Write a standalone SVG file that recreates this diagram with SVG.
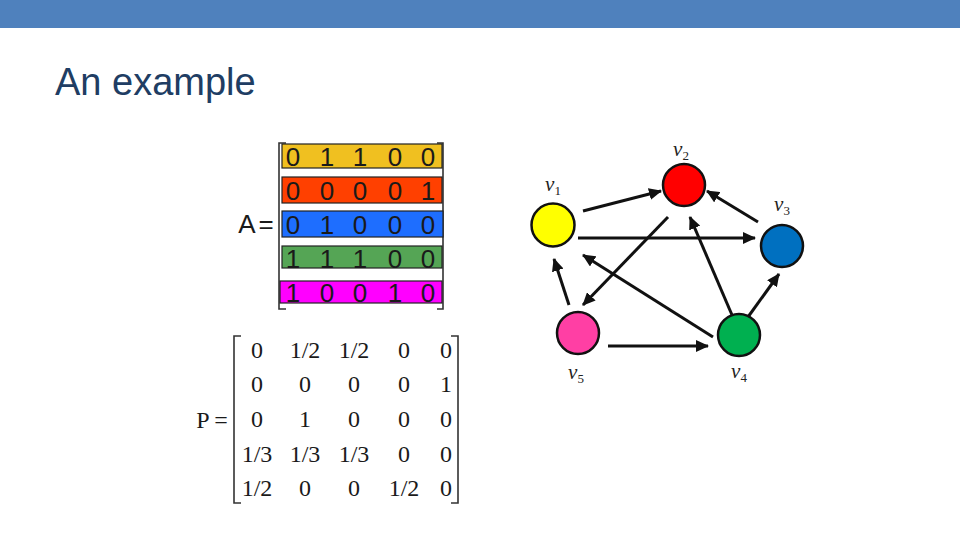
<svg xmlns="http://www.w3.org/2000/svg" width="960" height="540" viewBox="0 0 960 540">
<defs>
<style>
.title{font-family:"Liberation Sans",Arial,sans-serif;font-size:38px;fill:#203D63}
.ma{font-family:"Liberation Sans",Arial,sans-serif;font-size:26px;fill:#1a1a1a;text-anchor:middle}
.mp{font-family:"Liberation Serif","Times New Roman",serif;font-size:24px;fill:#1a1a1a;text-anchor:middle}
.row{stroke:#222;stroke-width:1.2}
.br{fill:none;stroke:#333;stroke-width:1.6}
.node{stroke:#111;stroke-width:2.5}
.lbl{font-family:"Liberation Serif","Times New Roman",serif;font-style:italic;font-size:21px;fill:#222;text-anchor:middle}
.sub{font-size:13px;font-style:normal}
.edge{stroke:#111;stroke-width:3;fill:none;marker-end:url(#ah)}
</style>
<marker id="ah" markerUnits="userSpaceOnUse" markerWidth="14" markerHeight="12" refX="12" refY="6" orient="auto">
<path d="M0,0 L13,6 L0,12 Z" fill="#111"/>
</marker>
</defs>
<rect x="0" y="0" width="960" height="28" fill="#4F81BD"/>
<text class="title" x="55" y="95">An example</text>

<g id="matrixA">
<text class="ma" x="247" y="233">A</text>
<text class="ma" x="266" y="233">=</text>
<path class="br" d="M286,143 H279 V309 H286"/>
<path class="br" d="M437,143 H443 V309 H437" stroke="#888"/>
<rect class="row" x="282" y="144" width="160" height="24" fill="#F0C020"/>
<rect class="row" x="282" y="177" width="160" height="26" fill="#FF4000"/>
<rect class="row" x="282" y="211" width="161" height="26" fill="#1E6EFF"/>
<rect class="row" x="282" y="246" width="160" height="22" fill="#55A555"/>
<rect class="row" x="280" y="281" width="162" height="22" fill="#FF00FF"/>
<g class="ma">
<text x="293" y="166">0</text><text x="327" y="166">1</text><text x="360" y="166">1</text><text x="395" y="166">0</text><text x="428" y="166">0</text>
<text x="293" y="200">0</text><text x="327" y="200">0</text><text x="360" y="200">0</text><text x="395" y="200">0</text><text x="428" y="200">1</text>
<text x="293" y="234">0</text><text x="327" y="234">1</text><text x="360" y="234">0</text><text x="395" y="234">0</text><text x="428" y="234">0</text>
<text x="293" y="268">1</text><text x="327" y="268">1</text><text x="360" y="268">1</text><text x="395" y="268">0</text><text x="428" y="268">0</text>
<text x="293" y="302">1</text><text x="327" y="302">0</text><text x="360" y="302">0</text><text x="395" y="302">1</text><text x="428" y="302">0</text>
</g>
</g>

<g id="matrixP">
<text class="mp" x="203" y="428">P</text>
<text class="mp" x="221" y="428">=</text>
<path class="br" d="M241,336 H234 V503 H241"/>
<path class="br" d="M451,336 H458 V503 H451"/>
<g class="mp">
<text x="257" y="358">0</text><text x="305" y="358">1/2</text><text x="354" y="358">1/2</text><text x="404" y="358">0</text><text x="446" y="358">0</text>
<text x="257" y="392">0</text><text x="305" y="392">0</text><text x="354" y="392">0</text><text x="404" y="392">0</text><text x="446" y="392">1</text>
<text x="257" y="427">0</text><text x="305" y="427">1</text><text x="354" y="427">0</text><text x="404" y="427">0</text><text x="446" y="427">0</text>
<text x="257" y="462">1/3</text><text x="305" y="462">1/3</text><text x="354" y="462">1/3</text><text x="404" y="462">0</text><text x="446" y="462">0</text>
<text x="257" y="496">1/2</text><text x="305" y="496">0</text><text x="354" y="496">0</text><text x="404" y="496">1/2</text><text x="446" y="496">0</text>
</g>
</g>

<g id="edges">
<line class="edge" x1="583" y1="211" x2="661" y2="191"/>
<line class="edge" x1="578" y1="238" x2="755" y2="238"/>
<line class="edge" x1="668" y1="217" x2="583" y2="305"/>
<line class="edge" x1="758" y1="222" x2="707" y2="191"/>
<line class="edge" x1="732" y1="315" x2="690" y2="217"/>
<line class="edge" x1="713" y1="337" x2="583" y2="255"/>
<line class="edge" x1="748" y1="317" x2="779" y2="274"/>
<line class="edge" x1="569" y1="305" x2="554" y2="259"/>
<line class="edge" x1="608" y1="346" x2="708" y2="346"/>
</g>

<g id="v1"><circle class="node" cx="553" cy="225" r="21.5" fill="#FFFF00"/><text class="lbl" x="553" y="191">v<tspan class="sub" dy="4">1</tspan></text></g>
<g id="v2"><circle class="node" cx="684" cy="185" r="21" fill="#FF0000"/><text class="lbl" x="681" y="156">v<tspan class="sub" dy="4">2</tspan></text></g>
<g id="v3"><circle class="node" cx="782" cy="246" r="21" fill="#0070C0"/><text class="lbl" x="782" y="211">v<tspan class="sub" dy="4">3</tspan></text></g>
<g id="v4"><circle class="node" cx="739" cy="335" r="21" fill="#00B050"/><text class="lbl" x="739" y="378">v<tspan class="sub" dy="4">4</tspan></text></g>
<g id="v5"><circle class="node" cx="578" cy="333" r="21" fill="#FF3FA4"/><text class="lbl" x="576" y="379">v<tspan class="sub" dy="4">5</tspan></text></g>
</svg>
